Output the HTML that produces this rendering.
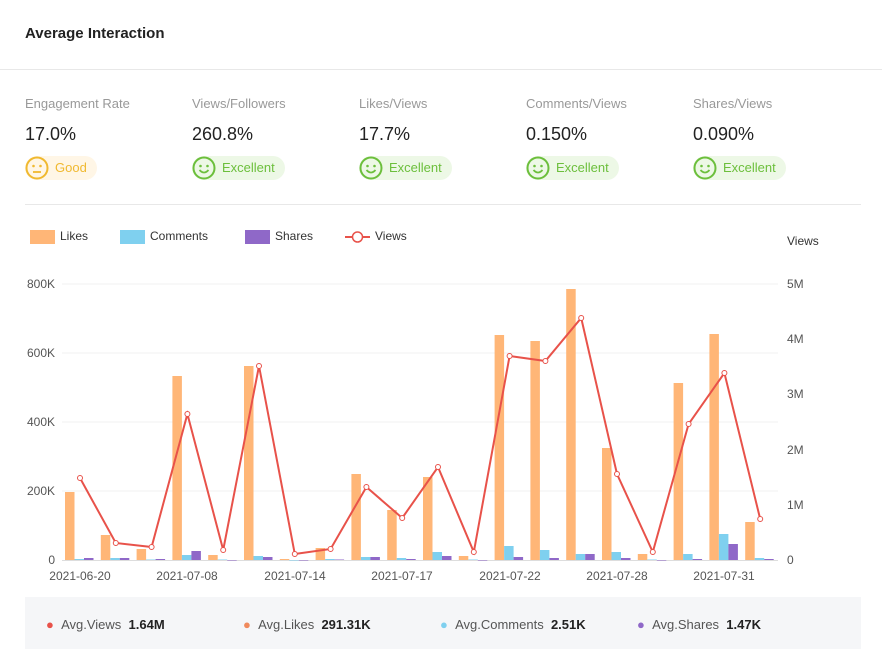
<!DOCTYPE html>
<html><head><meta charset="utf-8"><style>
body{margin:0;width:882px;height:649px;background:#fff;font-family:"Liberation Sans",sans-serif;position:relative;overflow:hidden;color:#333}
.t{position:absolute;white-space:nowrap}
.lab{font-size:13px;color:#999;top:96px}
.val{font-size:18px;color:#222;top:124px}
.badge{position:absolute;top:156px;height:24px;border-radius:12px;font-size:13px;line-height:24px;padding-left:30px;padding-right:10px}
.ok{background:#fff6e6;color:#f0b930}
.ex{background:#edf8e6;color:#6cbf3c}
</style></head><body>
<div class="t" style="left:25px;top:25px;font-size:15px;font-weight:bold;color:#222">Average Interaction</div>
<div style="position:absolute;left:0;top:69px;width:882px;height:1px;background:#e8e8e8"></div>

<div class="t lab" style="left:25px">Engagement Rate</div>
<div class="t lab" style="left:192px">Views/Followers</div>
<div class="t lab" style="left:359px">Likes/Views</div>
<div class="t lab" style="left:526px">Comments/Views</div>
<div class="t lab" style="left:693px">Shares/Views</div>
<div class="t val" style="left:25px">17.0%</div>
<div class="t val" style="left:192px">260.8%</div>
<div class="t val" style="left:359px">17.7%</div>
<div class="t val" style="left:526px">0.150%</div>
<div class="t val" style="left:693px">0.090%</div>

<div class="badge ok" style="left:25px"><svg style="position:absolute;left:0;top:0" width="24" height="24"><circle cx="12" cy="12" r="10.5" fill="none" stroke="#f0b930" stroke-width="2"/><circle cx="8.5" cy="10" r="1.3" fill="#f0b930"/><circle cx="15.5" cy="10" r="1.3" fill="#f0b930"/><line x1="8" y1="16" x2="16" y2="16" stroke="#f0b930" stroke-width="1.8"/></svg>Good</div>
<div class="badge ex" style="left:192px"><svg style="position:absolute;left:0;top:0" width="24" height="24"><circle cx="12" cy="12" r="10.5" fill="none" stroke="#6cbf3c" stroke-width="2"/><circle cx="8.5" cy="10" r="1.3" fill="#6cbf3c"/><circle cx="15.5" cy="10" r="1.3" fill="#6cbf3c"/><path d="M7.5 14 Q12 19 16.5 14" fill="none" stroke="#6cbf3c" stroke-width="1.8"/></svg>Excellent</div>
<div class="badge ex" style="left:359px"><svg style="position:absolute;left:0;top:0" width="24" height="24"><circle cx="12" cy="12" r="10.5" fill="none" stroke="#6cbf3c" stroke-width="2"/><circle cx="8.5" cy="10" r="1.3" fill="#6cbf3c"/><circle cx="15.5" cy="10" r="1.3" fill="#6cbf3c"/><path d="M7.5 14 Q12 19 16.5 14" fill="none" stroke="#6cbf3c" stroke-width="1.8"/></svg>Excellent</div>
<div class="badge ex" style="left:526px"><svg style="position:absolute;left:0;top:0" width="24" height="24"><circle cx="12" cy="12" r="10.5" fill="none" stroke="#6cbf3c" stroke-width="2"/><circle cx="8.5" cy="10" r="1.3" fill="#6cbf3c"/><circle cx="15.5" cy="10" r="1.3" fill="#6cbf3c"/><path d="M7.5 14 Q12 19 16.5 14" fill="none" stroke="#6cbf3c" stroke-width="1.8"/></svg>Excellent</div>
<div class="badge ex" style="left:693px"><svg style="position:absolute;left:0;top:0" width="24" height="24"><circle cx="12" cy="12" r="10.5" fill="none" stroke="#6cbf3c" stroke-width="2"/><circle cx="8.5" cy="10" r="1.3" fill="#6cbf3c"/><circle cx="15.5" cy="10" r="1.3" fill="#6cbf3c"/><path d="M7.5 14 Q12 19 16.5 14" fill="none" stroke="#6cbf3c" stroke-width="1.8"/></svg>Excellent</div>

<div style="position:absolute;left:25px;top:204px;width:836px;height:1px;background:#e8e8e8"></div>

<svg id="ch" style="position:absolute;left:0;top:0" width="882" height="649" font-family="Liberation Sans, sans-serif" font-size="12">
<rect x="30" y="230" width="25" height="14" fill="#ffb677"/><text x="60" y="240" fill="#333">Likes</text>
<rect x="120" y="230" width="25" height="14" fill="#7fd0ef"/><text x="150" y="240" fill="#333">Comments</text>
<rect x="245" y="230" width="25" height="14" fill="#8f68c8"/><text x="275" y="240" fill="#333">Shares</text>
<line x1="345" y1="237" x2="370" y2="237" stroke="#e8524a" stroke-width="2"/><circle cx="357.5" cy="237" r="5" fill="#fff" stroke="#e8524a" stroke-width="1.5"/><text x="375" y="240" fill="#333">Views</text>
<text x="787" y="245" fill="#333">Views</text>
<g stroke="#f0f0f0"><line x1="62" y1="284" x2="778" y2="284"/><line x1="62" y1="353" x2="778" y2="353"/><line x1="62" y1="422" x2="778" y2="422"/><line x1="62" y1="491" x2="778" y2="491"/></g>
<line x1="62" y1="560.5" x2="778" y2="560.5" stroke="#ddd"/>
<g fill="#555" text-anchor="end"><text x="55" y="288">800K</text><text x="55" y="357">600K</text><text x="55" y="426">400K</text><text x="55" y="495">200K</text><text x="55" y="564">0</text></g>
<g fill="#555"><text x="787" y="288">5M</text><text x="787" y="343">4M</text><text x="787" y="398">3M</text><text x="787" y="454">2M</text><text x="787" y="509">1M</text><text x="787" y="564">0</text></g>
<g fill="#555" text-anchor="middle"><text x="80" y="580">2021-06-20</text><text x="187" y="580">2021-07-08</text><text x="295" y="580">2021-07-14</text><text x="402" y="580">2021-07-17</text><text x="510" y="580">2021-07-22</text><text x="617" y="580">2021-07-28</text><text x="724" y="580">2021-07-31</text></g>
<g id="bars"></g>
<polyline id="vl" fill="none" stroke="#e8524a" stroke-width="2"/>
<g id="pts"></g>
</svg>

<div style="position:absolute;left:25px;top:597px;width:836px;height:52px;background:#f5f6f8"></div>
<div class="t" style="left:46px;top:617px;font-size:13px;color:#555"><span style="color:#e8524a">●</span>&nbsp;&nbsp;Avg.Views&nbsp;&nbsp;<b style="color:#222">1.64M</b></div>
<div class="t" style="left:243px;top:617px;font-size:13px;color:#555"><span style="color:#f08a5d">●</span>&nbsp;&nbsp;Avg.Likes&nbsp;&nbsp;<b style="color:#222">291.31K</b></div>
<div class="t" style="left:440px;top:617px;font-size:13px;color:#555"><span style="color:#7fd0ef">●</span>&nbsp;&nbsp;Avg.Comments&nbsp;&nbsp;<b style="color:#222">2.51K</b></div>
<div class="t" style="left:637px;top:617px;font-size:13px;color:#555"><span style="color:#8f68c8">●</span>&nbsp;&nbsp;Avg.Shares&nbsp;&nbsp;<b style="color:#222">1.47K</b></div>

<script>
var L=[492,535,549,376,555,366,559,548,474,510,477,556,335,341,289,448,554,383,334,522];
var V=[478,543,547,414,550,366,554,549,487,518,467,552,356,361,318,474,552,424,373,519];
var C=[559,558,559.5,555,559.5,556,560,559,557,558,552,559.5,546,550,554,552,559.5,554,534,558];
var S=[558,558,559,551,560,557,560,559.5,557,559,556,560,557,558,554,558,560,559,544,559];
var ns="http://www.w3.org/2000/svg",b=document.getElementById("bars"),p=document.getElementById("pts"),pts=[];
function r(x,y,c){var e=document.createElementNS(ns,"rect");e.setAttribute("x",x);e.setAttribute("y",y);e.setAttribute("width",9.5);e.setAttribute("height",Math.max(560-y,0.5));e.setAttribute("fill",c);b.appendChild(e);}
for(var i=0;i<20;i++){var c=80+35.8*i;r(c-15,L[i],"#ffb677");r(c-5.5,C[i],"#7fd0ef");r(c+4,S[i],"#8f68c8");pts.push(c+","+V[i]);
var k=document.createElementNS(ns,"circle");k.setAttribute("cx",c);k.setAttribute("cy",V[i]);k.setAttribute("r",2.5);k.setAttribute("fill","#fff");k.setAttribute("stroke","#e8524a");k.setAttribute("stroke-width",1);p.appendChild(k);}
document.getElementById("vl").setAttribute("points",pts.join(" "));
</script>
</body></html>
